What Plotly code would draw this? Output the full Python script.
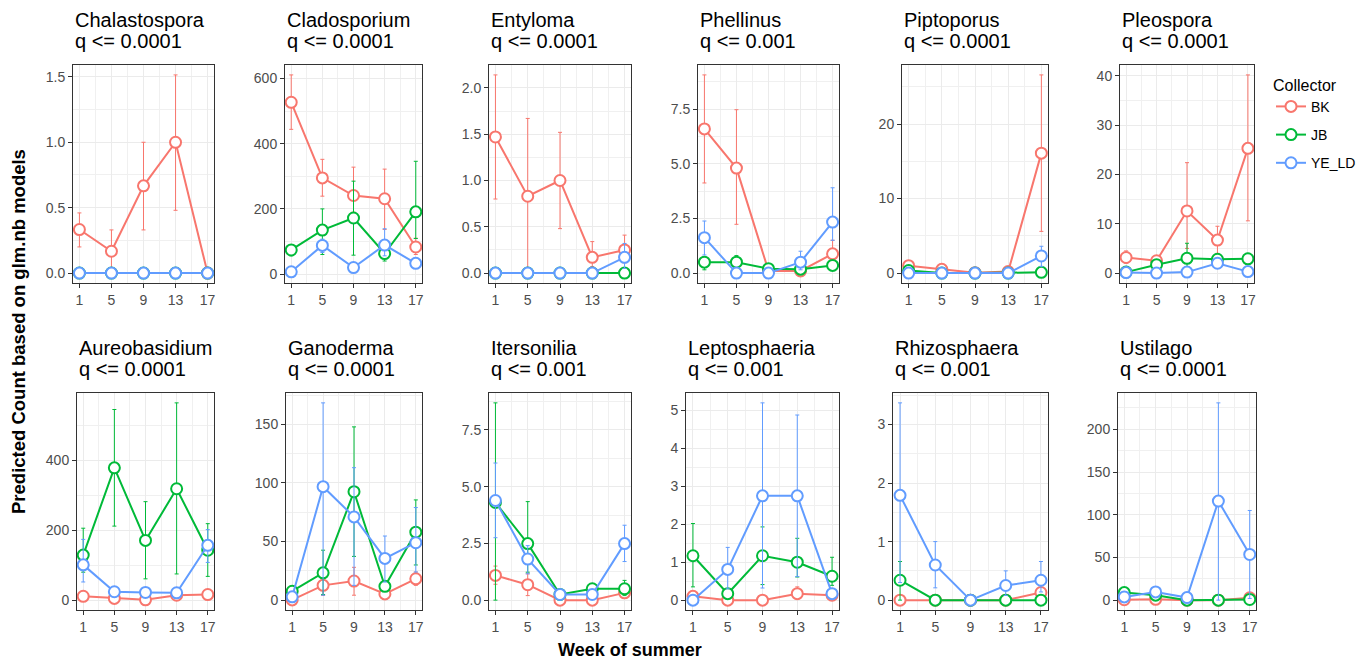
import plotly.graph_objects as go

# The page body has an 8px default margin, so the figure is drawn 8px in from the
# top-left corner; the layout is expressed in window pixels and shifted by OFF.
OFF = 8
W, H = 1366 - OFF, 660 - OFF
FONT = "Liberation Sans, Arial, sans-serif"

weeks = [1, 5, 9, 13, 17]
collectors = ["BK", "JB", "YE_LD"]
colors = ["#F8766D", "#00BA38", "#619CFF"]

genera = ["Chalastospora", "Cladosporium", "Entyloma", "Phellinus", "Piptoporus", "Pleospora",
          "Aureobasidium", "Ganoderma", "Itersonilia", "Leptosphaeria", "Rhizosphaera", "Ustilago"]
qlabels = ["q <= 0.0001", "q <= 0.0001", "q <= 0.0001", "q <= 0.001", "q <= 0.0001", "q <= 0.0001",
           "q <= 0.0001", "q <= 0.0001", "q <= 0.001", "q <= 0.001", "q <= 0.001", "q <= 0.0001"]

# rows: BK, JB, YE_LD ; columns: weeks 1, 5, 9, 13, 17
chalastospora_mean = [[0.333, 0.167, 0.667, 1.0, 0.0], [0, 0, 0, 0, 0], [0, 0, 0, 0, 0]]
chalastospora_lo = [[0.20, 0.0, 0.33, 0.48, 0.0], [0, 0, 0, 0, 0], [0, 0, 0, 0, 0]]
chalastospora_hi = [[0.46, 0.33, 1.0, 1.515, 0.0], [0, 0, 0, 0, 0], [0, 0, 0, 0, 0]]

cladosporium_mean = [[527, 295, 241, 231, 83], [74, 135, 172, 63, 191], [7, 88, 20, 89, 33]]
cladosporium_lo = [[444, 239, 190, 137, 60], [56, 60, 58, 40, 109], [3, 66, 10, 56, 20]]
cladosporium_hi = [[611, 352, 328, 322, 110], [90, 200, 285, 90, 346], [12, 107, 30, 139, 50]]

entyloma_mean = [[1.47, 0.83, 1.0, 0.17, 0.25], [0, 0, 0, 0, 0], [0, 0, 0, 0, 0.17]]
entyloma_lo = [[0.80, 0.0, 0.48, 0.07, 0.11], [0, 0, 0, 0, 0], [0, 0, 0, 0, 0.05]]
entyloma_hi = [[2.14, 1.67, 1.52, 0.34, 0.41], [0, 0, 0, 0, 0], [0, 0, 0, 0, 0.32]]

phellinus_mean = [[6.59, 4.8, 0.1, 0.1, 0.88], [0.5, 0.5, 0.2, 0.18, 0.35], [1.62, 0, 0, 0.5, 2.33]]
phellinus_lo = [[4.12, 2.23, 0.05, 0.05, 0.4], [0.15, 0.2, 0.1, 0.08, 0.15], [0.83, 0, 0, 0.15, 1.5]]
phellinus_hi = [[9.06, 7.47, 0.15, 0.15, 1.5], [0.76, 0.8, 0.3, 0.3, 0.55], [2.38, 0, 0, 1.0, 3.9]]

piptoporus_mean = [[1.0, 0.5, 0.05, 0.2, 16.1], [0.35, 0, 0, 0, 0.1], [0, 0, 0, 0, 2.3]]
piptoporus_lo = [[0.5, 0.2, 0.0, 0.1, 5.6], [0.2, 0, 0, 0, 0.05], [0, 0, 0, 0, 0.9]]
piptoporus_hi = [[1.5, 0.8, 0.1, 0.3, 26.6], [0.5, 0, 0, 0, 0.15], [0, 0, 0, 0, 3.6]]

pleospora_mean = [[3.16, 2.5, 12.6, 6.7, 25.3], [0.2, 1.7, 3.0, 2.8, 2.9], [0.1, 0, 0.2, 2.0, 0.3]]
pleospora_lo = [[2.0, 1.5, 5.0, 4.0, 10.6], [0.1, 1.0, 0.8, 2.0, 2.0], [0.05, 0, 0.1, 1.3, 0.15]]
pleospora_hi = [[4.5, 3.5, 22.4, 9.5, 40.2], [0.4, 2.5, 6.05, 3.6, 4.0], [0.2, 0, 0.4, 2.8, 0.5]]

aureobasidium_mean = [[11, 5, 1, 14, 16], [129, 379, 171, 319, 143], [101, 24, 22, 21, 157]]
aureobasidium_lo = [[5, 2, 0, 8, 10], [80, 212, 61, 75, 68], [52, 15, 14, 13, 108]]
aureobasidium_hi = [[18, 9, 3, 20, 22], [206, 546, 282, 565, 219], [174, 33, 30, 29, 202]]

ganoderma_mean = [[0.2, 12.6, 16.3, 5.3, 18.2], [7.6, 23.3, 92.5, 11.8, 58], [2.8, 96.8, 71, 35.6, 49]]
ganoderma_lo = [[0, 4, 4.2, 2, 12.6], [3, 4.8, 37.3, 8, 30], [1, 4.2, 12.6, 15.4, 24]]
ganoderma_hi = [[1, 24, 28, 10, 24], [12, 42.6, 147.8, 16, 85.5], [5, 168.3, 113, 54.7, 79]]

itersonilia_mean = [[1.09, 0.68, 0, 0, 0.32], [4.3, 2.49, 0.25, 0.5, 0.5], [4.39, 1.81, 0.25, 0.25, 2.49]]
itersonilia_lo = [[0.7, 0.2, 0, 0, 0.2], [0.0, 1.23, 0.1, 0.3, 0.2], [2.75, 1.16, 0.1, 0.1, 1.7]]
itersonilia_hi = [[1.5, 1.16, 0, 0, 0.45], [8.69, 4.34, 0.4, 0.7, 0.87], [6.04, 2.4, 0.4, 0.4, 3.3]]

leptosphaeria_mean = [[0.1, 0, 0, 0.17, 0.13], [1.17, 0.17, 1.17, 1.0, 0.63], [0, 0.81, 2.75, 2.75, 0.17]]
leptosphaeria_lo = [[0.03, 0, 0, 0.05, 0.05], [0.35, 0.05, 0.41, 0.61, 0.39], [0, 0.3, 0.32, 0.62, 0.05]]
leptosphaeria_hi = [[0.2, 0, 0, 0.35, 0.25], [2.02, 0.3, 1.93, 1.63, 1.13], [0, 1.39, 5.2, 4.88, 0.3]]

rhizosphaera_mean = [[0, 0, 0, 0, 0.13], [0.34, 0, 0, 0, 0], [1.79, 0.6, 0, 0.25, 0.34]]
rhizosphaera_lo = [[0, 0, 0, 0, 0.05], [0, 0, 0, 0, 0], [0.3, 0.21, 0, 0.08, 0.14]]
rhizosphaera_hi = [[0, 0, 0, 0, 0.2], [0.66, 0, 0, 0, 0], [3.37, 1.0, 0, 0.5, 0.66]]

ustilago_mean = [[0.5, 1, 0, 0, 2.7], [8.8, 5.8, 0, 0, 0.8], [3.8, 9.6, 3, 116, 53.5]]
ustilago_lo = [[0, 0, 0, 0, 1], [5, 3, 0, 0, 0.2], [1, 5, 1, 0, 2]]
ustilago_hi = [[1.5, 2, 0, 0, 5], [12, 9, 0, 0, 2], [7, 14, 5, 231, 105]]

ytick_step = [0.5, 200, 0.5, 2.5, 10, 10, 200, 50, 2.5, 1, 1, 50]
ytick_fmt = [".1f", "", ".1f", ".1f", "", "", "", "", ".1f", "", "", ""]

panel_data = [
    (chalastospora_mean, chalastospora_lo, chalastospora_hi),
    (cladosporium_mean, cladosporium_lo, cladosporium_hi),
    (entyloma_mean, entyloma_lo, entyloma_hi),
    (phellinus_mean, phellinus_lo, phellinus_hi),
    (piptoporus_mean, piptoporus_lo, piptoporus_hi),
    (pleospora_mean, pleospora_lo, pleospora_hi),
    (aureobasidium_mean, aureobasidium_lo, aureobasidium_hi),
    (ganoderma_mean, ganoderma_lo, ganoderma_hi),
    (itersonilia_mean, itersonilia_lo, itersonilia_hi),
    (leptosphaeria_mean, leptosphaeria_lo, leptosphaeria_hi),
    (rhizosphaera_mean, rhizosphaera_lo, rhizosphaera_hi),
    (ustilago_mean, ustilago_lo, ustilago_hi),
]

# panel boxes in window pixels (left, right) per row, and (top, bottom) per row
col_px = [
    [(73, 214), (285, 422), (489, 631), (698, 839), (902, 1048), (1120, 1254)],
    [(77, 214), (286, 422), (489, 631), (686, 839), (893, 1048), (1118, 1256)],
]
row_px = [(65, 283), (393, 610)]


def px(x):
    return (x - OFF) / W


def py(y):
    return 1 - (y - OFF) / H


fig = go.Figure()
annotations = []
layout_axes = {}

for i, (mean, lo, hi) in enumerate(panel_data):
    r, c = divmod(i, 6)
    left, right = col_px[r][c]
    top, bottom = row_px[r]
    n = i + 1
    xname = "x" if n == 1 else f"x{n}"
    yname = "y" if n == 1 else f"y{n}"
    for k, col in enumerate(collectors):
        up = [h - m for h, m in zip(hi[k], mean[k])]
        dn = [m - l for m, l in zip(mean[k], lo[k])]
        fig.add_trace(go.Scatter(
            x=weeks, y=mean[k], mode="lines+markers", name=col,
            legendgroup=col, showlegend=(i == 0),
            line=dict(color=colors[k], width=2),
            marker=dict(symbol="circle", size=11, color="white",
                        line=dict(color=colors[k], width=2)),
            error_y=dict(type="data", symmetric=False, array=up, arrayminus=dn,
                         color=colors[k], thickness=1, width=2),
            xaxis=xname, yaxis=yname,
        ))
    allv = [v for row in lo for v in row] + [v for row in hi for v in row] + [v for row in mean for v in row]
    ymin, ymax = min(allv), max(allv)
    pad = 0.05 * (ymax - ymin)
    common = dict(showline=True, mirror=True, linecolor="#333333", linewidth=1,
                  ticks="outside", ticklen=4, tickcolor="#333333", tickwidth=1,
                  showgrid=True, gridcolor="#EBEBEB", gridwidth=1, zeroline=False,
                  tickfont=dict(family=FONT, size=14, color="#4D4D4D"))
    xkey = "xaxis" if n == 1 else f"xaxis{n}"
    ykey = "yaxis" if n == 1 else f"yaxis{n}"
    layout_axes[xkey] = dict(common, domain=[px(left), px(right)], anchor=yname,
                             range=[0.2, 17.8], tickmode="array", tickvals=weeks,
                             minor=dict(tick0=1, dtick=2, showgrid=True, gridcolor="#F0F0F0", gridwidth=1))
    layout_axes[ykey] = dict(common, domain=[py(bottom), py(top)], anchor=xname,
                             range=[ymin - pad, ymax + pad], dtick=ytick_step[i], tick0=0,
                             tickformat=ytick_fmt[i],
                             minor=dict(tick0=0, dtick=ytick_step[i] / 2, showgrid=True,
                                        gridcolor="#F0F0F0", gridwidth=1))
    annotations.append(dict(text=genera[i], x=px(left), y=py(top - 45), xref="paper", yref="paper",
                            xanchor="left", yanchor="middle", showarrow=False,
                            font=dict(family=FONT, size=20, color="black")))
    annotations.append(dict(text=qlabels[i], x=px(left), y=py(top - 24), xref="paper", yref="paper",
                            xanchor="left", yanchor="middle", showarrow=False,
                            font=dict(family=FONT, size=20, color="black")))

annotations.append(dict(text="<b>Predicted Count based on glm.nb models</b>", x=px(18), y=py(332),
                        xref="paper", yref="paper", textangle=-90, showarrow=False,
                        xanchor="center", yanchor="middle", font=dict(family=FONT, size=18.5, color="black")))
annotations.append(dict(text="<b>Week of summer</b>", x=px(630), y=py(650),
                        xref="paper", yref="paper", showarrow=False,
                        xanchor="center", yanchor="middle", font=dict(family=FONT, size=18, color="black")))

fig.update_layout(
    width=W, height=H,
    margin=dict(l=0, r=0, t=0, b=0, autoexpand=False),
    paper_bgcolor="white", plot_bgcolor="white",
    font=dict(family=FONT),
    annotations=annotations,
    legend=dict(x=px(1271), y=py(70), xanchor="left", yanchor="top",
                title=dict(text="Collector", font=dict(family=FONT, size=16, color="black")),
                font=dict(family=FONT, size=14, color="black"),
                tracegroupgap=7, bgcolor="rgba(0,0,0,0)"),
    **layout_axes,
)

fig.write_html("out.html")
